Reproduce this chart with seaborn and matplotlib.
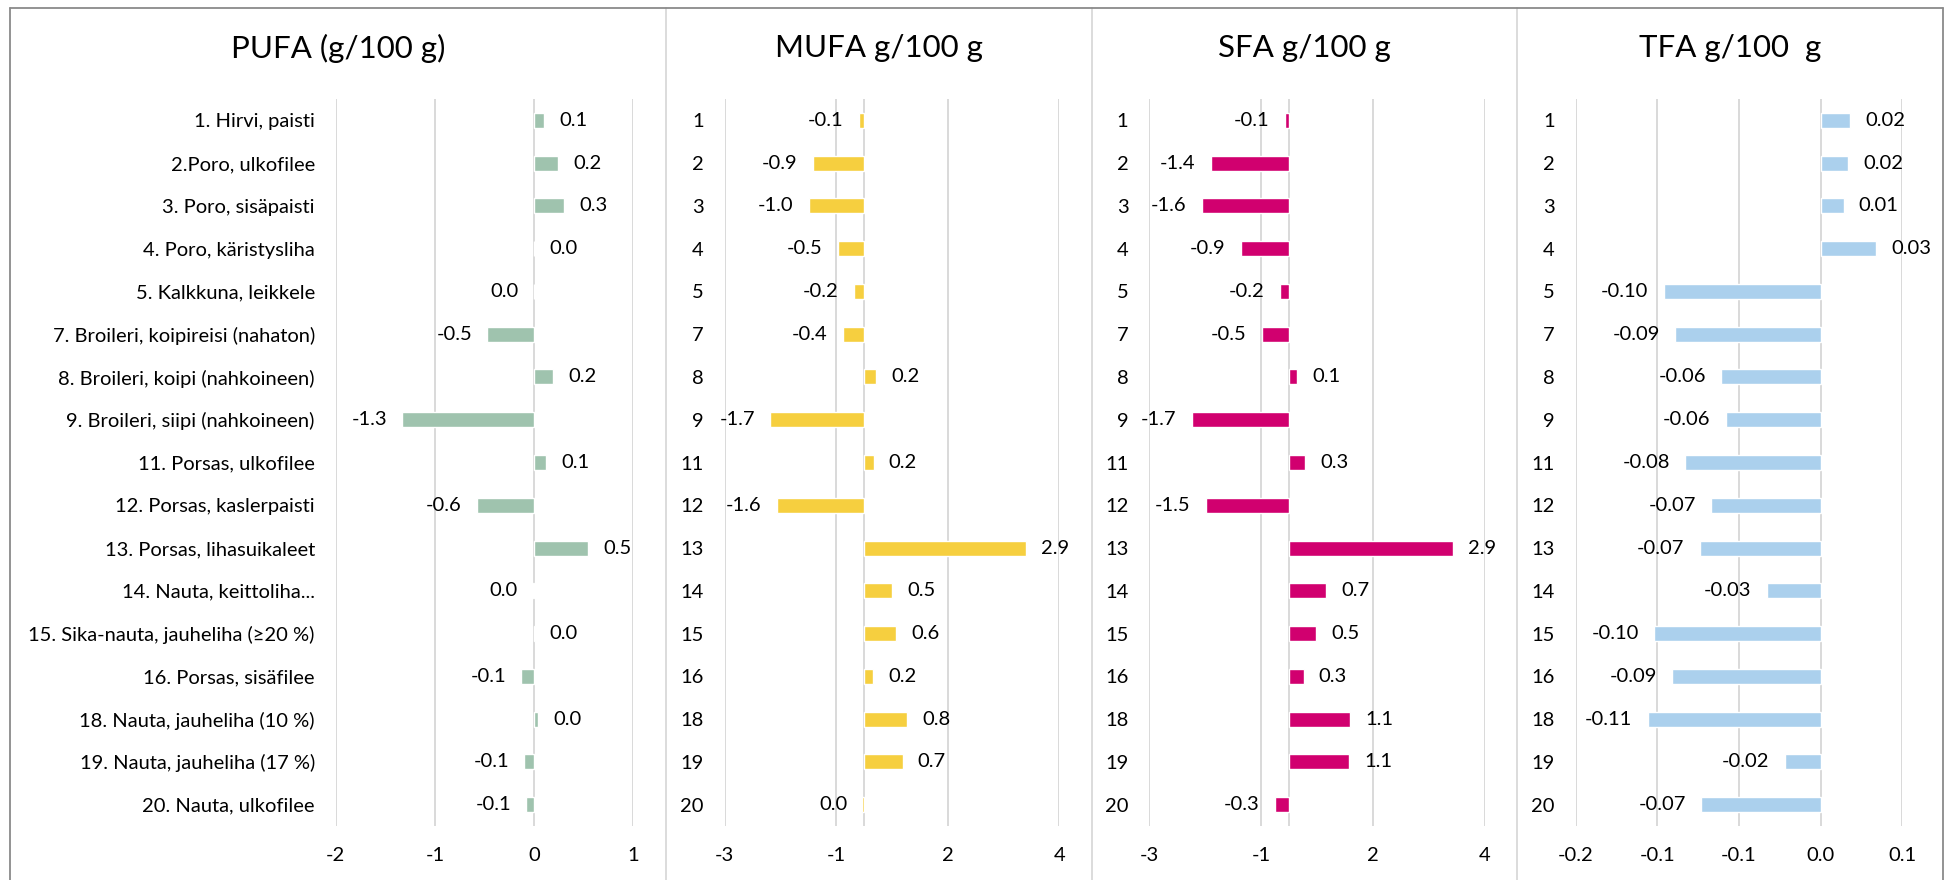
import matplotlib
matplotlib.use("Agg")
import matplotlib.pyplot as plt
from matplotlib.lines import Line2D
import seaborn as sns

# ---------------- data ----------------
items = [
    "1. Hirvi, paisti", "2.Poro, ulkofilee", "3. Poro, sisäpaisti",
    "4. Poro, käristysliha", "5. Kalkkuna, leikkele",
    "7. Broileri, koipireisi (nahaton)", "8. Broileri, koipi (nahkoineen)",
    "9. Broileri, siipi (nahkoineen)", "11. Porsas, ulkofilee",
    "12. Porsas, kaslerpaisti", "13. Porsas, lihasuikaleet",
    "14. Nauta, keittoliha...", "15. Sika-nauta, jauheliha (≥20 %)",
    "16. Porsas, sisäfilee", "18. Nauta, jauheliha (10 %)",
    "19. Nauta, jauheliha (17 %)", "20. Nauta, ulkofilee",
]
item_numbers = ["1", "2", "3", "4", "5", "7", "8", "9", "11", "12", "13",
                "14", "15", "16", "18", "19", "20"]

pufa = [0.10, 0.24, 0.30, 0.003, -0.003, -0.47, 0.19, -1.33, 0.12, -0.58,
        0.54, -0.01, 0.005, -0.13, 0.04, -0.10, -0.08]
mufa = [-0.09, -0.92, -0.99, -0.47, -0.18, -0.38, 0.21, -1.68, 0.17, -1.56,
        2.90, 0.50, 0.58, 0.16, 0.77, 0.69, -0.03]
sfa = [-0.08, -1.40, -1.56, -0.86, -0.17, -0.48, 0.14, -1.74, 0.29, -1.49,
       2.93, 0.66, 0.48, 0.26, 1.09, 1.08, -0.26]
tfa = [0.018, 0.017, 0.014, 0.034, -0.096, -0.089, -0.061, -0.058, -0.083,
       -0.067, -0.074, -0.033, -0.102, -0.091, -0.106, -0.022, -0.073]

titles = ["PUFA (g/100 g)", "MUFA g/100 g", "SFA g/100 g", "TFA g/100  g"]

pufa_ticks = [-2, -1, 0, 1]
pufa_ticklabels = ["-2", "-1", "0", "1"]
mufa_ticks = [-2.5, -0.5, 1.5, 3.5]
mufa_ticklabels = ["-3", "-1", "2", "4"]
sfa_ticks = [-2.5, -0.5, 1.5, 3.5]
sfa_ticklabels = ["-3", "-1", "2", "4"]
tfa_ticks = [-0.15, -0.10, -0.05, 0.0, 0.05]
tfa_ticklabels = ["-0.2", "-0.1", "-0.1", "0.0", "0.1"]

# ---------------- style ----------------
sns.set_style("white")
plt.rcParams["font.family"] = ["Lato", "DejaVu Sans"]
plt.rcParams["text.color"] = "#000000"

W, H = 1945, 880
fig = plt.figure(figsize=(W / 100, H / 100), dpi=100)
fig.patch.set_facecolor("white")

GRID = "#d9d9d9"
LS = 14.5
TS = 22.5


def fmt1(v):
    s = f"{v:.1f}"
    return "0.0" if s == "-0.0" else s


def fmt2(v):
    s = f"{v:.2f}"
    return "0.00" if s == "-0.00" else s


panels = [
    dict(vals=pufa, cats=items, color="#9fc3ae", xlim=(-2, 1),
         ticks=pufa_ticks, tl=pufa_ticklabels, fmt=fmt1, l=335.7, r=633.3,
         cx=338, zero=False),
    dict(vals=mufa, cats=item_numbers, color="#f6cf3f", xlim=(-2.5, 3.5),
         ticks=mufa_ticks, tl=mufa_ticklabels, fmt=fmt1, l=724.7, r=1059.3,
         cx=879, zero=True),
    dict(vals=sfa, cats=item_numbers, color="#d1006f", xlim=(-2.5, 3.5),
         ticks=sfa_ticks, tl=sfa_ticklabels, fmt=fmt1, l=1149.3, r=1484.7,
         cx=1304.5, zero=True),
    dict(vals=tfa, cats=item_numbers, color="#abd0ed", xlim=(-0.15, 0.05),
         ticks=tfa_ticks, tl=tfa_ticklabels, fmt=fmt2, l=1575.7, r=1902.3,
         cx=1730, zero=False),
]

top_px, bot_px = 99, 826

for p, title in zip(panels, titles):
    ax = fig.add_axes([p["l"] / W, 1 - bot_px / H, (p["r"] - p["l"]) / W,
                       (bot_px - top_px) / H])
    sns.barplot(x=p["vals"], y=p["cats"], orient="h", color=p["color"],
                saturation=1, width=0.35, ax=ax, zorder=3)
    ax.set_xlim(*p["xlim"])
    ax.set_ylim(len(p["cats"]) - 0.5, -0.5)
    ax.set_xticks(p["ticks"])
    ax.set_xticklabels(p["tl"])
    ax.grid(axis="x", color=GRID, lw=1.4)
    ax.grid(axis="y", visible=False)
    if p["zero"]:
        ax.axvline(0, color=GRID, lw=1.4, zorder=1)
    ax.set_axisbelow(True)
    for s in ax.spines.values():
        s.set_visible(False)
    ax.set_xlabel("")
    ax.set_ylabel("")
    ax.tick_params(length=0, pad=15, labelsize=LS, colors="#000000")
    ax.bar_label(ax.containers[0], labels=[p["fmt"](v) for v in p["vals"]],
                 padding=11, fontsize=LS, color="#000000")
    fig.text(p["cx"] / W, 1 - 48 / H, title, ha="center", va="center",
             fontsize=TS, color="#000000")

# panel separators and outer frame
for xp in [665.5, 1092, 1517]:
    fig.add_artist(Line2D([xp / W, xp / W], [1 - 8.5 / H, 0], color=GRID,
                          lw=1.3, transform=fig.transFigure))
frame = "#8a8a8a"
fig.add_artist(Line2D([10 / W, 10 / W], [0, 1 - 8.5 / H], color=frame, lw=1.3,
                      transform=fig.transFigure))
fig.add_artist(Line2D([10 / W, 1943 / W], [1 - 8.5 / H, 1 - 8.5 / H],
                      color=frame, lw=1.3, transform=fig.transFigure))
fig.add_artist(Line2D([1943 / W, 1943 / W], [0, 1 - 8.5 / H], color=frame,
                      lw=1.3, transform=fig.transFigure))

fig.savefig("out.png", dpi=100, facecolor="white")
